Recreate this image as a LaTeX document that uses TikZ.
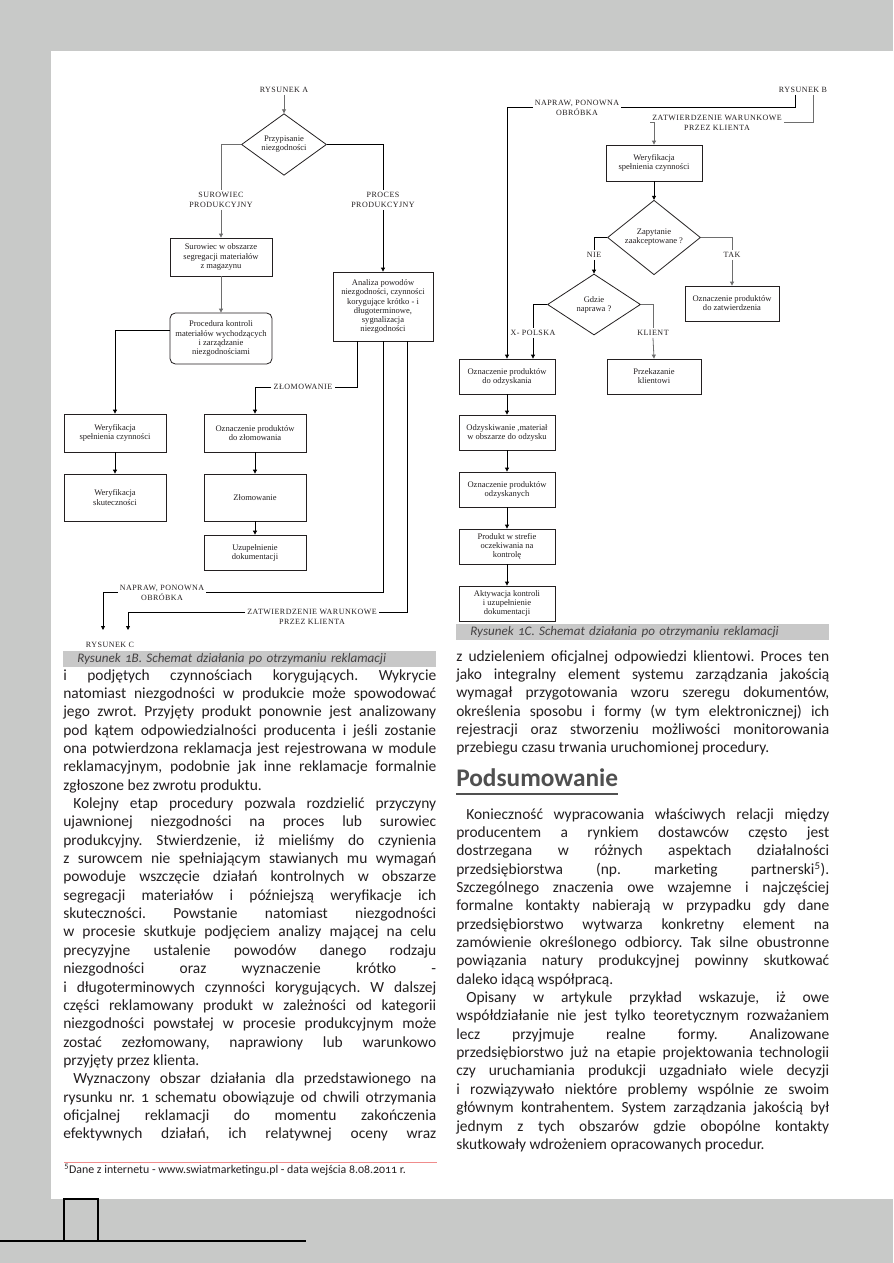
\documentclass[tikz,border=0pt]{standalone}
\usepackage{fontspec}
\setmainfont{Carlito}[Numbers=OldStyle]
\newfontfamily\diafont{Liberation Serif}
\newfontfamily\capfont{Liberation Serif}[LetterSpace=6]
\usetikzlibrary{positioning,arrows.meta,calc,shapes.geometric}
\definecolor{pageGray}{RGB}{200,201,200}
\definecolor{barGray}{RGB}{200,200,200}
\definecolor{inkDark}{RGB}{35,31,32}
\definecolor{headGray}{RGB}{80,80,80}
\definecolor{noteRed}{RGB}{240,140,140}
\definecolor{lineGray}{RGB}{110,110,110}
\newlength\colw
\setlength\colw{279.75pt}
\newcommand\jl[1]{\makebox[\colw][s]{\spaceskip=0pt\xspaceskip=0pt #1}\par}
\newcommand\lastl[1]{#1\par}
\newcommand\ind{\hspace*{7.5pt}}

\begin{document}
\begin{tikzpicture}[x=0.75pt,y=-0.75pt,
    pbox/.style={draw=inkDark, line width=0.6pt, fill=white, align=center, inner sep=1pt,
                 font=\diafont\fontsize{6.4}{6.8}\selectfont, text=inkDark},
    dbox/.style={diamond, draw=inkDark, line width=0.6pt, align=center, inner sep=0pt,
                 font=\diafont\fontsize{6.4}{6.8}\selectfont, text=inkDark},
    lab/.style={align=center, inner sep=1.5pt, font=\capfont\fontsize{6}{7.5}\selectfont, text=inkDark},
    link/.style={draw=black, line width=0.6pt},
    linkg/.style={draw=lineGray, line width=0.6pt},
    tip/.style={-{Triangle[length=3pt,width=3pt]}},
    bodytxt/.style={anchor=north west, inner sep=0pt, text width=279.75pt, align=justify, text=inkDark,
                    font=\fontsize{11.6}{13.76}\selectfont\frenchspacing\setlength{\parindent}{0pt}\setlength{\parskip}{0pt}},
    capbar/.style={anchor=north west, fill=barGray, inner xsep=10.5pt, inner ysep=0pt,
                   text width=258.75pt, minimum height=12pt, align=left, text=inkDark!85,
                   font=\itshape\fontsize{9.8}{11}\selectfont}
  ]
  \useasboundingbox (0,0) rectangle (893,1263);
  % page
  \fill[pageGray] (0,0) rectangle (893,1263);
  \fill[white] (51,51) rectangle (893,1199);
  \draw[black, line width=0.8pt] (64,1199) rectangle (98,1241);
  \draw[black, line width=0.8pt] (0,1241) -- (306,1241);

  % rysunek 1B
  \node[lab] (rA) at (284,90) {RYSUNEK A};
  \node[dbox, minimum width=63.75pt, minimum height=41.25pt] (dA) at (284,144.5) {Przypisanie\\niezgodności};
  \node[lab] (labSur) at (221,200) {SUROWIEC\\PRODUKCYJNY};
  \node[lab] (labPro) at (383,200) {PROCES\\PRODUKCYJNY};
  \node[pbox, minimum width=76.5pt, minimum height=28.5pt] (surBox) at (221,257) {Surowiec w obszarze\\segregacji materiałów\\z magazynu};
  \node[pbox, minimum width=75pt, minimum height=51.75pt] (anBox) at (383,306.5) {Analiza powodów\\niezgodności, czynności\\korygujące krótko - i\\długoterminowe,\\sygnalizacja\\niezgodności};
  \node[pbox, rounded corners=4pt, minimum width=76.5pt, minimum height=38.25pt] (procBox) at (221,338.5) {Procedura kontroli\\materiałów wychodzących\\i zarządzanie\\niezgodnościami};
  \node[lab] (labZl) at (303,387) {ZŁOMOWANIE};
  \node[pbox, minimum width=76.5pt, minimum height=28.5pt] (wer1) at (115,433) {Weryfikacja\\spełnienia czynności};
  \node[pbox, minimum width=76.5pt, minimum height=35.25pt] (wer2) at (115,497.5) {Weryfikacja\\skuteczności};
  \node[pbox, minimum width=76.5pt, minimum height=28.5pt] (ozn1) at (255,433) {Oznaczenie produktów\\do złomowania};
  \node[pbox, minimum width=76.5pt, minimum height=35.25pt] (zlom) at (255,497.5) {Złomowanie};
  \node[pbox, minimum width=76.5pt, minimum height=26.25pt] (uzup) at (255,552.5) {Uzupełnienie\\dokumentacji};
  \node[lab] (labNap) at (162,592.5) {NAPRAW, PONOWNA\\OBRÓBKA};
  \node[lab] (labZat) at (312,617) {ZATWIERDZENIE WARUNKOWE\\PRZEZ KLIENTA};
  \node[lab] (rC) at (110,645) {RYSUNEK C};
  \coordinate (endN) at (103,630);
  \coordinate (endZ) at (128,630);

  \draw[linkg,tip] (rA) -- (dA);
  \draw[linkg] (dA.west) -| (labSur.north);
  \draw[linkg,tip] (labSur.south) -- (surBox.north);
  \draw[link] (dA.east) -| (labPro.north);
  \draw[link,tip] (labPro.south) -- (anBox.north);
  \draw[linkg,tip] (surBox) -- (procBox);
  \draw[link,tip] ($(procBox.west)+(0,-8)$) -| (wer1.north);
  \draw[link,tip] (wer1) -- (wer2);
  \draw[link] ($(anBox.south west)+(25,0)$) |- (labZl.east);
  \draw[link,tip] (labZl.west) -| (ozn1.north);
  \draw[link,tip] (ozn1) -- (zlom);
  \draw[link,tip] (zlom) -- (uzup);
  \draw[link] (anBox.south) |- (labNap.east);
  \draw[link,tip] (labNap.west) -| (endN);
  \draw[link] ($(anBox.south east)+(-26,0)$) |- ($(labZat.east)+(0,-5)$);
  \draw[link,tip] ($(labZat.west)+(0,-5)$) -| (endZ);

  % rysunek 1C
  \node[lab] (rB) at (803,90) {RYSUNEK B};
  \node[lab] (labNap2) at (577,107.5) {NAPRAW, PONOWNA\\OBRÓBKA};
  \node[lab] (labZat2) at (717,122.5) {ZATWIERDZENIE WARUNKOWE\\PRZEZ KLIENTA};
  \node[pbox, minimum width=72pt, minimum height=27pt] (werC) at (654,163) {Weryfikacja\\spełnienia czynności};
  \node[dbox, minimum width=69.75pt, minimum height=45.75pt] (dZ) at (654,237.5) {Zapytanie\\zaakceptowane ?};
  \node[lab] (labNie) at (594,255) {NIE};
  \node[lab] (labTak) at (732,255) {TAK};
  \node[pbox, minimum width=70.5pt, minimum height=26.25pt] (oznZat) at (732,303.5) {Oznaczenie produktów\\do zatwierdzenia};
  \node[dbox, minimum width=69.75pt, minimum height=45.75pt] (dG) at (594,304.5) {Gdzie\\naprawa ?};
  \node[lab] (labXP) at (533,333) {X- POLSKA};
  \node[lab] (labKl) at (653,333) {KLIENT};
  \node[pbox, minimum width=72pt, minimum height=26.25pt] (oznOd) at (507,376.5) {Oznaczenie produktów\\do odzyskania};
  \node[pbox, minimum width=70.5pt, minimum height=26.25pt] (przek) at (654,376.5) {Przekazanie\\klientowi};
  \node[pbox, minimum width=72pt, minimum height=26.25pt] (odz) at (507,432.5) {Odzyskiwanie ,materiał\\w obszarze do odzysku};
  \node[pbox, minimum width=72pt, minimum height=26.25pt] (oznOdz) at (507,489.5) {Oznaczenie produktów\\odzyskanych};
  \node[pbox, minimum width=72pt, minimum height=26.25pt] (prod) at (507,546.5) {Produkt w strefie\\oczekiwania na\\kontrolę};
  \node[pbox, minimum width=72pt, minimum height=26.25pt] (akt) at (507,603.5) {Aktywacja kontroli\\i uzupełnienie\\dokumentacji};

  \draw[link] ($(rB.south)+(-8,0)$) |- (labNap2.east);
  \draw[link,tip] (labNap2.west) -| (oznOd.north);
  \draw[linkg] ($(rB.south)+(10,0)$) |- (labZat2.east);
  \draw[linkg,tip] (labZat2.west) -| (werC.north);
  \draw[link,tip] (werC) -- (dZ);
  \draw[link] (dZ.west) -| (labNie.north);
  \draw[link,tip] (labNie.south) -- (dG.north);
  \draw[linkg] (dZ.east) -| (labTak.north);
  \draw[linkg,tip] (labTak.south) -- (oznZat.north);
  \draw[link] (dG.west) -| (labXP.north);
  \draw[link,tip] (labXP.south) -- (labXP.south |- oznOd.north);
  \draw[linkg] (dG.east) -| (labKl.north);
  \draw[linkg,tip] (labKl.south) -- (przek.north);
  \draw[link,tip] (oznOd) -- (odz);
  \draw[link,tip] (odz) -- (oznOdz);
  \draw[link,tip] (oznOdz) -- (prod);
  \draw[link,tip] (prod) -- (akt);

  % captions
  \node[capbar] (capB) at (63,651) {Rysunek 1B. Schemat działania po otrzymaniu reklamacji};
  \node[capbar] (capC) at (456,624) {Rysunek 1C. Schemat działania po otrzymaniu reklamacji};

  % left column
  \node[bodytxt] (colL) at (63,667) {%
    \jl{\strut i podjętych czynnościach korygujących. Wykrycie}
    \jl{natomiast niezgodności w produkcie może spowodować}
    \jl{jego zwrot. Przyjęty produkt ponownie jest analizowany}
    \jl{pod kątem odpowiedzialności producenta i jeśli zostanie}
    \jl{ona potwierdzona reklamacja jest rejestrowana w module}
    \jl{reklamacyjnym, podobnie jak inne reklamacje formalnie}
    \lastl{zgłoszone bez zwrotu produktu.}
    \jl{\ind Kolejny etap procedury pozwala rozdzielić przyczyny}
    \jl{ujawnionej niezgodności na proces lub surowiec}
    \jl{produkcyjny. Stwierdzenie, iż mieliśmy do czynienia}
    \jl{z surowcem nie spełniającym stawianych mu wymagań}
    \jl{powoduje wszczęcie działań kontrolnych w obszarze}
    \jl{segregacji materiałów i późniejszą weryfikacje ich}
    \jl{skuteczności. Powstanie natomiast niezgodności}
    \jl{w procesie skutkuje podjęciem analizy mającej na celu}
    \jl{precyzyjne ustalenie powodów danego rodzaju}
    \jl{niezgodności oraz wyznaczenie krótko -}
    \jl{i długoterminowych czynności korygujących. W dalszej}
    \jl{części reklamowany produkt w zależności od kategorii}
    \jl{niezgodności powstałej w procesie produkcyjnym może}
    \jl{zostać zezłomowany, naprawiony lub warunkowo}
    \lastl{przyjęty przez klienta.}
    \jl{\ind Wyznaczony obszar działania dla przedstawionego na}
    \jl{rysunku nr. 1 schematu obowiązuje od chwili otrzymania}
    \jl{oficjalnej reklamacji do momentu zakończenia}
    \jl{efektywnych działań, ich relatywnej oceny wraz}};

  % footnote
  \draw[noteRed, line width=0.6pt] (64,1162) -- (437,1162);
  \node[anchor=west, inner sep=0pt, text=inkDark, font=\fontsize{8.9}{10}\selectfont] (note) at (64,1170)
    {\textsuperscript{5}Dane z internetu - www.swiatmarketingu.pl - data wejścia 8.08.2011 r.};

  % right column
  \node[bodytxt] (colR) at (456,648) {%
    \jl{\strut z udzieleniem oficjalnej odpowiedzi klientowi. Proces ten}
    \jl{jako integralny element systemu zarządzania jakością}
    \jl{wymagał przygotowania wzoru szeregu dokumentów,}
    \jl{określenia sposobu i formy (w tym elektronicznej) ich}
    \jl{rejestracji oraz stworzeniu możliwości monitorowania}
    \lastl{przebiegu czasu trwania uruchomionej procedury.}};
  \node[anchor=base west, inner sep=0pt, text=headGray, font=\bfseries\fontsize{19}{22}\selectfont] (head) at (456,786) {Podsumowanie};
  \draw[headGray, line width=1.1pt] ($(head.base west)+(0,8)$) -- ($(head.base east)+(0,8)$);
  \node[bodytxt] (colR2) at (456,806) {%
    \jl{\strut\ind Konieczność wypracowania właściwych relacji między}
    \jl{producentem a rynkiem dostawców często jest}
    \jl{dostrzegana w różnych aspektach działalności}
    \jl{przedsiębiorstwa (np. marketing partnerski\textsuperscript{5}).}
    \jl{Szczególnego znaczenia owe wzajemne i najczęściej}
    \jl{formalne kontakty nabierają w przypadku gdy dane}
    \jl{przedsiębiorstwo wytwarza konkretny element na}
    \jl{zamówienie określonego odbiorcy. Tak silne obustronne}
    \jl{powiązania natury produkcyjnej powinny skutkować}
    \lastl{daleko idącą współpracą.}
    \jl{\ind Opisany w artykule przykład wskazuje, iż owe}
    \jl{współdziałanie nie jest tylko teoretycznym rozważaniem}
    \jl{lecz przyjmuje realne formy. Analizowane}
    \jl{przedsiębiorstwo już na etapie projektowania technologii}
    \jl{czy uruchamiania produkcji uzgadniało wiele decyzji}
    \jl{i rozwiązywało niektóre problemy wspólnie ze swoim}
    \jl{głównym kontrahentem. System zarządzania jakością był}
    \jl{jednym z tych obszarów gdzie obopólne kontakty}
    \lastl{skutkowały wdrożeniem opracowanych procedur.}};
\end{tikzpicture}
\end{document}
